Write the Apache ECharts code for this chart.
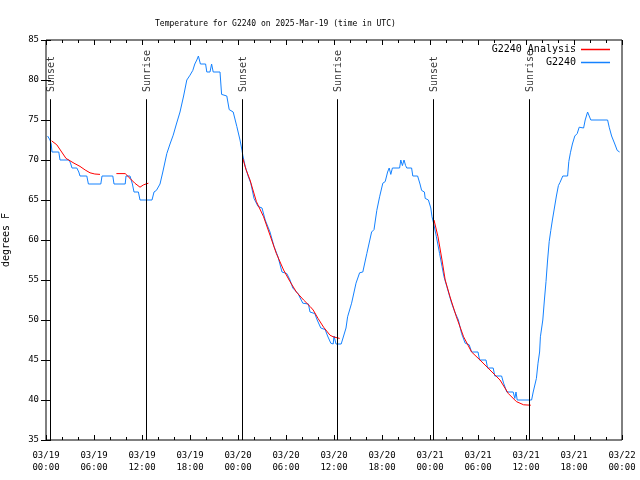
<!DOCTYPE html>
<html>
<head>
<meta charset="utf-8">
<script src="https://cdn.jsdelivr.net/npm/echarts@6/dist/echarts.min.js"></script>
<style>html,body{margin:0;padding:0;background:#fff}#c{width:640px;height:480px}</style>
</head>
<body>
<div id="c"></div>
<script>
// Hours since 2025-03-19 00:00 UTC, temperature in degrees F
const obsData = [[0.2,73],[0.5,72.5],[0.65,72],[0.75,71],[1.6,71],[1.75,70],[2.9,70],[3.1,69.5],[3.25,69],[3.85,69],[4.1,68.5],[4.25,68],[5.1,68],[5.3,67],[6.85,67],[7.0,68],[8.35,68],[8.5,67],[9.9,67],[10.0,68],[10.5,68],[10.8,67],[11.0,66],[11.55,66],[11.75,65],[13.25,65],[13.5,66],[13.8,66.2],[14.25,67],[14.6,68.5],[15.1,70.8],[15.5,72],[15.9,73.1],[16.3,74.5],[16.75,76],[17.2,78],[17.6,80],[18.0,80.6],[18.35,81.2],[18.6,82],[18.85,82.5],[19.05,83],[19.3,82],[19.95,82],[20.1,81],[20.5,81],[20.7,82],[20.9,81],[21.75,81],[21.95,78.2],[22.6,78],[22.9,76.3],[23.4,76],[23.85,74.2],[24.25,72.5],[24.5,71.2],[24.6,70.6],[24.9,69.2],[25.3,67.9],[25.6,67.1],[26.0,65.2],[26.5,64.2],[27.0,64],[27.4,62.5],[28.0,61],[28.5,59.2],[29.0,57.9],[29.5,56],[30.1,55.8],[30.5,55],[30.85,54],[31.5,53.3],[32.1,52.1],[32.8,52],[33.0,51],[33.6,50.8],[33.9,50],[34.35,49],[34.9,48.8],[35.2,48],[35.6,47.1],[35.9,47],[36.0,48],[36.25,47],[36.9,47],[37.2,48],[37.5,49],[37.7,50.4],[38.2,52.1],[38.75,54.6],[39.2,55.9],[39.6,56],[40.1,58.3],[40.7,61],[41.0,61.3],[41.35,63.7],[41.7,65.4],[42.1,67.1],[42.4,67.3],[42.7,68.5],[42.9,69],[43.1,68.2],[43.3,69],[44.2,69],[44.35,70],[44.55,69.3],[44.75,70],[44.95,69.3],[45.1,69],[45.7,69],[45.85,68],[46.45,68],[46.75,67],[46.95,66.2],[47.3,66],[47.4,65.2],[47.8,65],[48.1,64],[48.25,62.9],[48.45,62.1],[48.8,60.4],[49.2,58.3],[49.5,56.7],[49.75,55.4],[50.1,54.2],[50.7,52.1],[51.1,51],[51.55,50],[51.95,48.3],[52.4,47.1],[52.9,46.9],[53.2,46],[54.0,46],[54.2,45],[55.0,45],[55.2,44],[55.9,44],[56.1,43],[56.95,43],[57.2,42.1],[57.6,41],[58.4,41],[58.6,40.2],[58.75,41],[58.9,40],[60.7,40],[60.9,41],[61.3,42.7],[61.5,44.6],[61.7,46],[61.8,47.9],[62.1,50],[62.3,52.5],[62.5,54.8],[62.7,57.5],[62.9,59.8],[63.1,61.2],[63.3,62.5],[63.55,64],[63.8,65.5],[64.05,66.8],[64.25,67.2],[64.6,68],[65.2,68],[65.35,69.8],[65.55,70.9],[65.8,72],[66.1,73],[66.4,73.3],[66.65,74.1],[67.2,74],[67.4,75],[67.7,76],[67.9,76],[68.1,75],[70.2,75],[70.4,74.1],[70.7,73],[70.9,72.8],[71.1,72],[71.4,71.2],[71.7,71]];

const analysisData = [[0.7,72.4],[1.35,71.9],[2.5,70.2],[3.5,69.6],[4.25,69.2],[4.9,68.75],[5.5,68.4],[6.1,68.25],[6.75,68.2],[7.8,'-'],[8.8,68.3],[9.9,68.3],[10.5,67.7],[11.1,67.1],[11.75,66.6],[12.2,66.9],[12.8,67.1],[18,'-'],[24.6,70.2],[25.0,68.8],[25.5,67.5],[26.3,64.8],[27.2,62.9],[28.0,60.6],[28.8,58.3],[29.7,56.25],[30.5,54.8],[31.3,53.5],[32.2,52.5],[33.0,51.7],[33.4,51.25],[34.0,50.2],[34.7,49.1],[35.5,48.1],[35.9,47.9],[36.7,47.7],[42,'-'],[48.5,62.5],[49.0,60.4],[49.5,57.5],[49.9,55],[50.5,52.9],[51.3,50.4],[52.2,47.9],[53.2,46],[54.25,45],[55.5,43.75],[56.75,42.5],[57.8,40.8],[58.8,39.8],[59.7,39.4],[60.6,39.35]];

const eventHours = [0.5, 12.5, 24.5, 36.4, 48.4, 60.4];
const eventNames = ['Sunset', 'Sunrise', 'Sunset', 'Sunrise', 'Sunset', 'Sunrise'];

const xTickLabels = ['03/19\n00:00','03/19\n06:00','03/19\n12:00','03/19\n18:00','03/20\n00:00','03/20\n06:00','03/20\n12:00','03/20\n18:00','03/21\n00:00','03/21\n06:00','03/21\n12:00','03/21\n18:00','03/22\n00:00'];

const seriesNames = ['G2240 Analysis', 'G2240'];
const titleText = 'Temperature for G2240 on 2025-Mar-19 (time in UTC)';
const yName = 'degrees F';

const FONT = 'DejaVu Sans Mono';
const chart = echarts.init(document.getElementById('c'), null, {renderer: 'canvas'});

const xBase = {
  type: 'value', min: 0, max: 72, interval: 6,
  axisLine: {show: false},
  splitLine: {show: false},
  axisTick: {show: true, inside: true, length: 5, lineStyle: {color: '#000'}},
  minorTick: {show: true, splitNumber: 3, length: 3, lineStyle: {color: '#000'}},
};
const yBase = {
  type: 'value', min: 35, max: 85, interval: 5,
  axisLine: {show: false},
  splitLine: {show: false},
  axisTick: {show: true, inside: true, length: 5, lineStyle: {color: '#000'}},
};

chart.setOption({
  animation: false,
  backgroundColor: '#fff',
  title: {
    text: titleText, left: 150, top: 15,
    textStyle: {fontFamily: FONT, fontSize: 8, fontWeight: 'normal', color: '#000'}
  },
  legend: {
    data: seriesNames, orient: 'vertical', right: 30, top: 43, padding: 0,
    align: 'right', icon: 'rect', itemWidth: 29, itemHeight: 1.5, itemGap: 0,
    textStyle: {fontFamily: FONT, fontSize: 10, color: '#000', lineHeight: 13}
  },
  grid: {left: 46, right: 18, top: 40, bottom: 40, containLabel: false, outerBoundsMode: 'none',
    show: true, borderColor: '#000', borderWidth: 1, backgroundColor: 'transparent'},
  xAxis: [
    Object.assign({}, xBase, {position: 'bottom',
      axisLabel: {show: true, margin: 9, fontFamily: FONT, fontSize: 9, color: '#000', lineHeight: 12.5,
        formatter: v => xTickLabels[Math.round(v / 6)]}}),
    Object.assign({}, xBase, {position: 'top', axisLabel: {show: false}})
  ],
  yAxis: [
    Object.assign({}, yBase, {position: 'left', name: yName, nameLocation: 'middle', nameRotate: 90, nameGap: 35,
      nameTextStyle: {fontFamily: FONT, fontSize: 10, color: '#000'},
      axisLabel: {show: true, margin: 7, fontFamily: FONT, fontSize: 9, color: '#000'}}),
    Object.assign({}, yBase, {position: 'right', axisLabel: {show: false}})
  ],
  series: [
    {
      name: seriesNames[0], type: 'line', data: analysisData, showSymbol: false, connectNulls: false,
      lineStyle: {color: '#ff0000', width: 1}, itemStyle: {color: '#ff0000'}, z: 3,
      markLine: {
        silent: true, symbol: 'none', label: {show: false},
        lineStyle: {color: '#000', width: 1, type: 'solid'},
        data: eventHours.map(h => [{coord: [h, 77.6]}, {coord: [h, 35]}])
      }
    },
    {
      name: seriesNames[1], type: 'line', data: obsData, showSymbol: false,
      lineStyle: {color: '#1482ff', width: 1}, itemStyle: {color: '#1482ff'}, z: 2
    },
    {
      name: 'events', type: 'scatter', symbolSize: 0, silent: true,
      data: eventHours.map((h, i) => ({value: [h, 78.5], name: eventNames[i]})),
      label: {show: true, position: 'inside', rotate: 90, align: 'left', verticalAlign: 'middle', offset: [0, 1],
        formatter: p => p.name, fontFamily: FONT, fontSize: 10, color: '#000'}
    }
  ]
});
</script>
</body>
</html>
